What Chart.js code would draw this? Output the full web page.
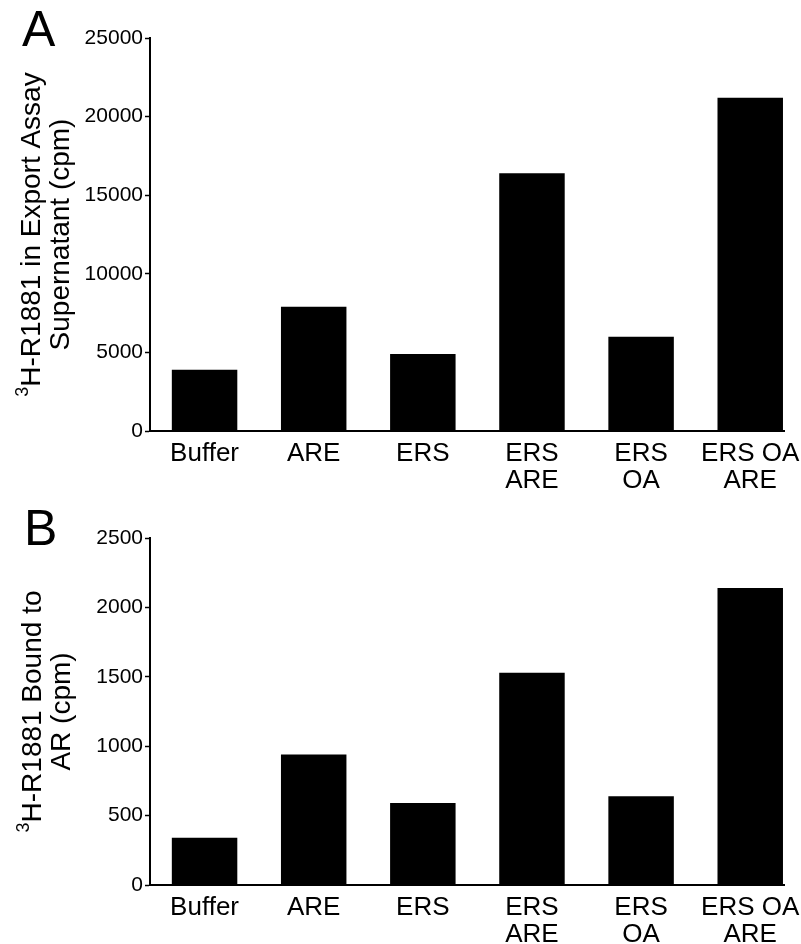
<!DOCTYPE html>
<html>
<head>
<meta charset="utf-8">
<script src="https://cdn.jsdelivr.net/npm/chart.js@4.4.1/dist/chart.umd.min.js"></script>
<style>
  html, body { margin: 0; padding: 0; background: #fff; }
  .panel { position: absolute; left: 0; width: 801px; }
  #panelA { top: 0; height: 496px; }
  #panelB { top: 496px; height: 448px; }
</style>
</head>
<body>
<div class="panel" id="panelA"><canvas id="chartA"></canvas></div>
<div class="panel" id="panelB"><canvas id="chartB"></canvas></div>
<script>
// categories (multi-line labels)
const categories = [
  ["Buffer"],
  ["ARE"],
  ["ERS"],
  ["ERS", "ARE"],
  ["ERS", "OA"],
  ["ERS OA", "ARE"],
];

// Panel A: 3H-R1881 in export assay supernatant (cpm)
const supernatantCpm = [3900, 7900, 4900, 16400, 6000, 21200];
const ticksA = [0, 5000, 10000, 15000, 20000, 25000];

// Panel B: 3H-R1881 bound to AR (cpm)
const boundCpm = [340, 940, 590, 1530, 640, 2140];
const ticksB = [0, 500, 1000, 1500, 2000, 2500];

const FONT = "'Liberation Sans', Arial, sans-serif";

// draws the panel letter and the rotated y title with a superscript 3
const panelDecor = {
  id: "panelDecor",
  afterDraw(chart, args, opts) {
    const ctx = chart.ctx;
    const y = chart.scales.y;
    ctx.save();
    ctx.fillStyle = "#000";
    ctx.textBaseline = "alphabetic";
    ctx.textAlign = "left";
    ctx.font = "50px " + FONT;
    ctx.fillText(opts.letter, opts.letterX, opts.letterY);

    const cy = (y.top + y.bottom) / 2;
    const big = "28px " + FONT;
    const small = "18px " + FONT;

    // line 1: superscript 3 + rest
    ctx.font = small;
    const w3 = ctx.measureText("3").width;
    ctx.font = big;
    const wRest = ctx.measureText(opts.line1).width;
    const total1 = w3 + wRest;

    ctx.save();
    ctx.translate(opts.line1X, cy);
    ctx.rotate(-Math.PI / 2);
    ctx.font = small;
    ctx.fillText("3", -total1 / 2, -12);
    ctx.font = big;
    ctx.fillText(opts.line1, -total1 / 2 + w3, 0);
    ctx.restore();

    ctx.save();
    ctx.translate(opts.line2X, cy);
    ctx.rotate(-Math.PI / 2);
    ctx.font = big;
    ctx.textAlign = "center";
    ctx.fillText(opts.line2, 0, 0);
    ctx.restore();

    ctx.restore();
  },
};

function makeChart(id, values, yTicks, topPad, xHeight, decor) {
  const ctx = document.getElementById(id).getContext("2d");
  return new Chart(ctx, {
    type: "bar",
    data: {
      datasets: [
        {
          data: values.map((v, i) => ({ x: i, y: v })),
          backgroundColor: "#000",
          borderWidth: 0,
          categoryPercentage: 1,
          barPercentage: 0.6,
        },
      ],
    },
    options: {
      responsive: true,
      maintainAspectRatio: false,
      animation: false,
      layout: {
        padding: { top: topPad, right: 12, bottom: 0, left: 0 },
      },
      plugins: {
        legend: { display: false },
        tooltip: { enabled: false },
        panelDecor: decor,
      },
      scales: {
        x: {
          type: "linear",
          offset: false,
          min: -0.5,
          max: 5.31,
          grid: { display: false },
          border: { display: true, color: "#000", width: 2 },
          afterBuildTicks: (scale) => {
            scale.ticks = categories.map((_, i) => ({ value: i }));
          },
          afterFit: (scale) => {
            scale.height = xHeight;
          },
          ticks: {
            color: "#000",
            font: { family: FONT, size: 26, lineHeight: 1.04 },
            padding: 1,
            maxRotation: 0,
            autoSkip: false,
            callback: (v) => categories[v] || "",
          },
        },
        y: {
          min: 0,
          max: yTicks[yTicks.length - 1],
          grid: {
            display: true,
            drawOnChartArea: false,
            drawTicks: true,
            tickLength: 5,
            tickWidth: 1.5,
            color: "#000",
          },
          border: { display: true, color: "#000", width: 2 },
          afterBuildTicks: (scale) => {
            scale.ticks = yTicks.map((t) => ({ value: t }));
          },
          afterFit: (scale) => {
            scale.width = 150;
          },
          ticks: {
            color: "#000",
            font: { family: FONT, size: 21 },
            padding: 2,
            callback: (v) => String(v),
          },
        },
      },
    },
    plugins: [panelDecor],
  });
}

makeChart("chartA", supernatantCpm, ticksA, 38, 65, {
  letter: "A",
  letterX: 22,
  letterY: 46,
  line1: "H-R1881 in Export Assay",
  line2: "Supernatant (cpm)",
  line1X: 40,
  line2X: 69,
});

makeChart("chartB", boundCpm, ticksB, 42, 59, {
  letter: "B",
  letterX: 24,
  letterY: 49,
  line1: "H-R1881 Bound to",
  line2: "AR (cpm)",
  line1X: 41,
  line2X: 70,
});
</script>
</body>
</html>
